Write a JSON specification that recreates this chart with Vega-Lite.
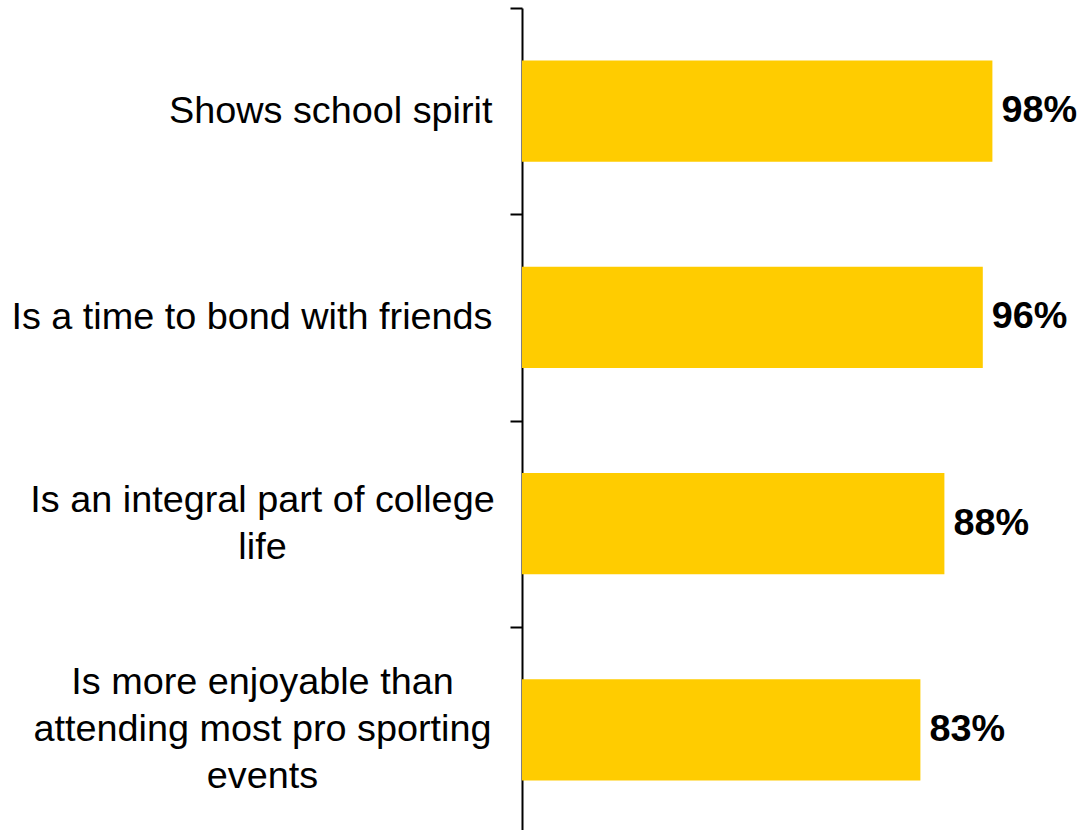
{
  "$schema": "https://vega.github.io/schema/vega-lite/v6.json",
  "width": 480,
  "height": 825,
  "autosize": {"type": "none"},
  "padding": {"left": 522, "top": 8, "right": 79, "bottom": 0},
  "background": "white",
  "config": {"view": {"stroke": null}},
  "data": {
    "values": [
      {"statement": "Shows school spirit", "pct": 0.98},
      {"statement": "Is a time to bond with friends", "pct": 0.96},
      {"statement": "Is an integral part of college life", "pct": 0.88},
      {"statement": "Is more enjoyable than attending most pro sporting events", "pct": 0.83}
    ]
  },
  "encoding": {
    "y": {
      "field": "statement",
      "type": "nominal",
      "sort": null,
      "scale": {"paddingInner": 0.51, "paddingOuter": 0.255},
      "axis": {
        "title": null,
        "domainColor": "black",
        "domainWidth": 2,
        "tickColor": "black",
        "tickWidth": 2,
        "tickSize": 12,
        "tickOffset": -103.125,
        "labelFont": "Liberation Sans",
        "labelFontSize": 37.8,
        "labelColor": "black",
        "labelLimit": 0,
        "labelLineHeight": 47,
        "labelBaseline": "middle",
        "labelExpr": "datum.value == 'Is an integral part of college life' ? ['Is an integral part of college', 'life'] : datum.value == 'Is more enjoyable than attending most pro sporting events' ? ['Is more enjoyable than', 'attending most pro sporting', 'events'] : datum.value",
        "labelAlign": {"condition": {"test": "length(datum.value) > 32", "value": "center"}, "value": "right"},
        "labelPadding": {"condition": {"test": "length(datum.value) > 32", "value": 248}, "value": 18},
        "labelOffset": {"condition": [{"test": "length(datum.value) > 40", "value": 56.125}, {"test": "length(datum.value) > 32", "value": 79.625}], "value": 103.125}
      }
    },
    "x": {"field": "pct", "type": "quantitative", "scale": {"domain": [0, 1]}, "axis": null}
  },
  "layer": [
    {"mark": {"type": "bar", "color": "#FFCC00"}},
    {
      "mark": {"type": "text", "align": "left", "baseline": "middle", "dx": 9, "font": "Liberation Sans", "fontSize": 37.8, "fontWeight": "bold", "color": "black"},
      "encoding": {"text": {"field": "pct", "type": "quantitative", "format": ".0%"}}
    }
  ]
}
